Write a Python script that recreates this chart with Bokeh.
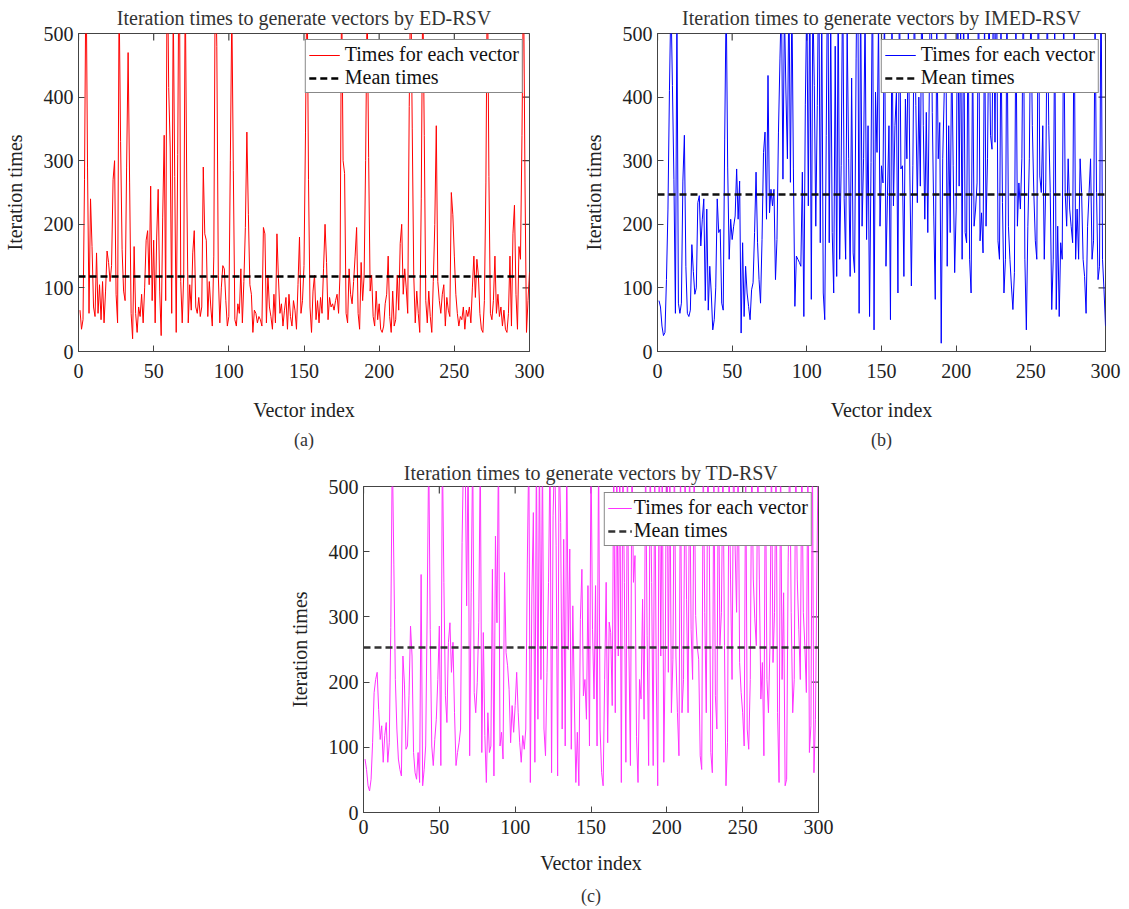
import math
from bokeh.plotting import figure
from bokeh.models import Range1d, FixedTicker, LinearAxis, Legend, LegendItem, Spacer
from bokeh.layouts import column, row
from bokeh.embed import file_html
from bokeh.resources import INLINE

FONT = "Liberation Serif"

x_limits = [0, 300]
y_limits = [0, 500]
x_ticks = [0, 50, 100, 150, 200, 250, 300]
y_ticks = [0, 100, 200, 300, 400, 500]

vector_index = list(range(1, 301))

ed_rsv = [
    65, 35, 50, 270, 620, 290, 60, 240, 165, 70,
    55, 155, 60, 105, 50, 110, 45, 95, 158, 140,
    110, 135, 270, 300, 90, 45, 560, 330, 160, 95,
    80, 290, 470, 265, 60, 20, 165, 60, 30, 70,
    55, 90, 45, 100, 175, 190, 105, 260, 80, 175,
    45, 180, 255, 95, 25, 210, 340, 80, 650, 415,
    320, 60, 550, 275, 30, 310, 700, 110, 45, 120,
    580, 265, 45, 105, 65, 155, 190, 70, 60, 85,
    55, 70, 290, 185, 175, 55, 110, 70, 40, 150,
    620, 480, 120, 45, 100, 135, 130, 80, 40, 55,
    300, 540, 285, 50, 40, 75, 60, 130, 45, 110,
    195, 345, 215, 105, 90, 30, 65, 60, 45, 55,
    50, 40, 195, 185, 45, 120, 70, 55, 35, 90,
    45, 185, 115, 60, 75, 40, 65, 85, 35, 90,
    55, 40, 80, 65, 35, 105, 180, 60, 80, 135,
    345, 620, 270, 70, 30, 95, 120, 50, 80, 45,
    85, 60, 130, 200, 140, 50, 85, 70, 75, 65,
    80, 90, 60, 125, 580, 300, 280, 60, 45, 130,
    90, 75, 110, 150, 195, 60, 35, 140, 80, 120,
    300, 560, 305, 95, 120, 55, 40, 95, 50, 75,
    35, 30, 40, 75, 90, 150, 55, 30, 95, 40,
    50, 120, 65, 170, 200, 90, 130, 100, 60, 385,
    600, 350, 120, 45, 95, 60, 30, 240, 580, 340,
    80, 45, 95, 55, 30, 110, 200, 355, 110, 80,
    60, 90, 105, 40, 85, 65, 55, 250, 215, 150,
    90, 60, 40, 55, 50, 70, 35, 65, 55, 70,
    45, 100, 150, 85, 145, 120, 60, 35, 30, 80,
    265, 620, 275, 60, 50, 80, 150, 60, 90, 55,
    70, 40, 65, 35, 30, 60, 150, 40, 185, 230,
    90, 35, 165, 145, 340, 600, 265, 30, 80, 125,
]

imed_rsv = [
    80, 70, 40, 25, 30, 113, 224, 410, 560, 418,
    270, 60, 540, 76, 60, 76, 268, 340, 134, 60,
    55, 65, 168, 126, 90, 100, 234, 245, 166, 208,
    240, 80, 224, 65, 134, 92, 34, 50, 100, 240,
    187, 192, 76, 65, 334, 560, 290, 145, 208, 176,
    197, 213, 287, 208, 268, 29, 171, 55, 134, 92,
    71, 50, 97, 108, 187, 282, 171, 113, 76, 176,
    313, 345, 208, 434, 218, 255, 229, 255, 113, 176,
    345, 460, 560, 271, 540, 408, 303, 580, 266, 560,
    287, 71, 150, 145, 140, 134, 282, 55, 389, 560,
    229, 600, 82, 560, 418, 197, 387, 620, 171, 540,
    92, 50, 340, 650, 171, 520, 187, 92, 480, 118,
    560, 145, 292, 600, 240, 145, 510, 303, 118, 430,
    155, 124, 460, 700, 60, 580, 197, 303, 540, 176,
    355, 55, 297, 620, 34, 408, 313, 520, 197, 292,
    265, 560, 134, 245, 355, 50, 540, 229, 355, 408,
    92, 600, 287, 292, 118, 397, 303, 520, 276, 103,
    292, 560, 387, 234, 400, 260, 600, 355, 208, 376,
    187, 408, 650, 376, 213, 82, 520, 303, 360, 13,
    303, 408, 560, 134, 355, 187, 480, 292, 124, 224,
    600, 260, 520, 145, 560, 187, 171, 540, 145, 92,
    480, 197, 224, 265, 600, 174, 218, 155, 540, 197,
    303, 560, 340, 318, 600, 329, 650, 174, 145, 520,
    234, 92, 145, 560, 197, 145, 103, 66, 124, 540,
    197, 265, 224, 303, 600, 145, 34, 197, 303, 560,
    355, 250, 174, 145, 620, 276, 250, 355, 145, 265,
    560, 355, 250, 66, 145, 540, 66, 197, 55, 171,
    145, 560, 250, 197, 303, 224, 197, 171, 560, 145,
    224, 145, 303, 250, 145, 118, 60, 197, 250, 303,
    145, 174, 540, 250, 113, 134, 620, 145, 97, 40,
]

td_rsv = [
    82, 66, 41, 33, 51, 107, 184, 204, 215, 158,
    112, 133, 77, 118, 138, 77, 107, 284, 560, 381,
    204, 128, 82, 66, 56, 240, 197, 97, 102, 179,
    286, 240, 92, 61, 51, 92, 46, 365, 41, 66,
    102, 309, 560, 281, 102, 72, 112, 143, 204, 286,
    72, 560, 353, 179, 138, 261, 291, 215, 261, 153,
    72, 92, 107, 128, 414, 560, 560, 317, 560, 87,
    337, 560, 184, 153, 199, 291, 560, 92, 276, 118,
    46, 153, 92, 102, 373, 56, 424, 291, 560, 102,
    123, 82, 368, 245, 225, 189, 107, 164, 123, 164,
    215, 153, 107, 77, 118, 97, 128, 381, 560, 46,
    332, 460, 77, 560, 143, 560, 204, 560, 128, 87,
    215, 353, 560, 61, 455, 560, 409, 56, 560, 445,
    128, 419, 102, 560, 250, 404, 97, 317, 174, 46,
    123, 41, 296, 373, 179, 204, 143, 348, 102, 560,
    281, 174, 348, 102, 560, 128, 61, 41, 204, 353,
    107, 292, 276, 164, 560, 153, 560, 240, 560, 46,
    560, 353, 77, 560, 250, 72, 560, 353, 394, 117,
    46, 204, 174, 327, 143, 560, 271, 72, 560, 353,
    72, 560, 220, 41, 600, 240, 560, 77, 250, 700,
    215, 560, 153, 235, 560, 240, 153, 87, 560, 153,
    204, 560, 327, 153, 560, 281, 204, 560, 302, 256,
    235, 87, 66, 560, 307, 153, 560, 409, 92, 61,
    560, 179, 128, 560, 256, 307, 560, 256, 41, 107,
    560, 358, 204, 560, 409, 307, 560, 230, 184, 153,
    102, 560, 128, 97, 204, 560, 358, 297, 256, 560,
    358, 174, 230, 87, 560, 204, 153, 256, 560, 230,
    307, 560, 153, 46, 560, 204, 337, 41, 51, 384,
    560, 307, 153, 204, 560, 358, 281, 204, 560, 307,
    256, 184, 560, 92, 133, 560, 61, 143, 384, 600,
]

mean_ed = 118
mean_imed = 247
mean_td = 253

titles = [
    "Iteration times to generate vectors by ED-RSV",
    "Iteration times to generate vectors by IMED-RSV",
    "Iteration times to generate vectors by TD-RSV",
]
captions = ["(a)", "(b)", "(c)"]
legend_labels = ["Times for each vector", "Mean times"]

AX = "#444444"


def make_panel(title, caption, series, mean, color, mean_color, width, height,
               bl, br, bt, bb, title_standoff, tick_standoff, xlabel_standoff,
               cap_standoff, glyph_w, label_standoff, leg_margin):
    p = figure(width=width, height=height, output_backend="svg", toolbar_location=None,
               x_range=Range1d(*x_limits), y_range=Range1d(*y_limits),
               min_border_left=bl, min_border_right=br, min_border_top=bt, min_border_bottom=bb)
    p.xgrid.visible = False
    p.ygrid.visible = False
    p.outline_line_color = AX
    p.outline_line_width = 1
    p.background_fill_color = "white"
    p.border_fill_color = "white"

    p.title.text = title
    p.title.text_font = FONT
    p.title.text_font_size = "20px"
    p.title.text_font_style = "normal"
    p.title.text_color = "#333333"
    p.title.align = "center"
    p.title.vertical_align = "top"
    p.title.standoff = title_standoff

    for ax in (p.xaxis[0], p.yaxis[0]):
        ax.major_tick_in = 6
        ax.major_tick_out = 0
        ax.minor_tick_line_color = None
        ax.axis_line_color = AX
        ax.major_tick_line_color = AX
        ax.major_label_text_font = FONT
        ax.major_label_text_font_size = "20px"
        ax.major_label_text_color = "#222222"
        ax.axis_label_text_font = FONT
        ax.axis_label_text_font_size = "20px"
        ax.axis_label_text_font_style = "normal"
        ax.axis_label_text_color = "#222222"

    p.xaxis[0].ticker = FixedTicker(ticks=x_ticks)
    p.yaxis[0].ticker = FixedTicker(ticks=y_ticks)
    p.xaxis[0].axis_label = "Vector index"
    p.yaxis[0].axis_label = "Iteration times"
    p.xaxis[0].major_label_standoff = tick_standoff
    p.xaxis[0].axis_label_standoff = xlabel_standoff
    p.yaxis[0].major_label_standoff = 5
    p.yaxis[0].axis_label_standoff = 15

    # inward tick marks on the top and right edges of the box (clipped to the frame)
    p.scatter(x=x_ticks, y=[y_limits[1]] * len(x_ticks), marker="dash", size=14,
              angle=math.pi / 2, line_color=AX, line_width=1.2)
    p.scatter(x=[x_limits[1]] * len(y_ticks), y=y_ticks, marker="dash", size=14,
              line_color=AX, line_width=1.2)

    r1 = p.line(vector_index, series, line_color=color, line_width=1)
    r2 = p.line(x_limits, [mean, mean], line_color=mean_color, line_width=2.5, line_dash="7 4")

    legend = Legend(items=[LegendItem(label=legend_labels[0], renderers=[r1]),
                           LegendItem(label=legend_labels[1], renderers=[r2])],
                    location="top_right")
    legend.label_text_font = FONT
    legend.label_text_font_size = "20px"
    legend.label_text_color = "#111111"
    legend.label_height = 20
    legend.glyph_height = 20
    legend.glyph_width = glyph_w
    legend.label_standoff = label_standoff
    legend.spacing = 0
    legend.padding = 3
    legend.margin = leg_margin
    legend.border_line_color = "#111111"
    legend.border_line_width = 1
    legend.background_fill_color = "white"
    legend.background_fill_alpha = 1
    p.add_layout(legend)

    # sub-figure caption: a tick-less axis whose label is the caption
    cap = LinearAxis(ticker=FixedTicker(ticks=[]), axis_label=caption,
                     axis_line_color=None, major_tick_line_color=None,
                     minor_tick_line_color=None, major_tick_in=0, major_tick_out=0,
                     major_label_standoff=0, axis_label_standoff=cap_standoff,
                     axis_label_text_font=FONT, axis_label_text_font_size="18px",
                     axis_label_text_font_style="normal", axis_label_text_color="#333333")
    p.add_layout(cap, "below")
    return p


pa = make_panel(titles[0], captions[0], ed_rsv, mean_ed, "#ff0000", "#000000",
                577, 455, 78, 48, 33, 104, 6, 12, 18, 6, 31, 5, 6)
pb = make_panel(titles[1], captions[1], imed_rsv, mean_imed, "#0000ff", "#111111",
                548, 455, 80, 20, 33, 104, 6, 12, 18, 6, 31, 5, 6)
pc = make_panel(titles[2], captions[2], td_rsv, mean_td, "#ff33ff", "#333333",
                553, 453, 78, 20, 31, 96, 2, 7, 15, 9, 24, 2, 6)

layout = column(row(pa, pb), row(Spacer(width=285, height=453), pc))

open("out.html", "w").write(file_html(layout, INLINE))
